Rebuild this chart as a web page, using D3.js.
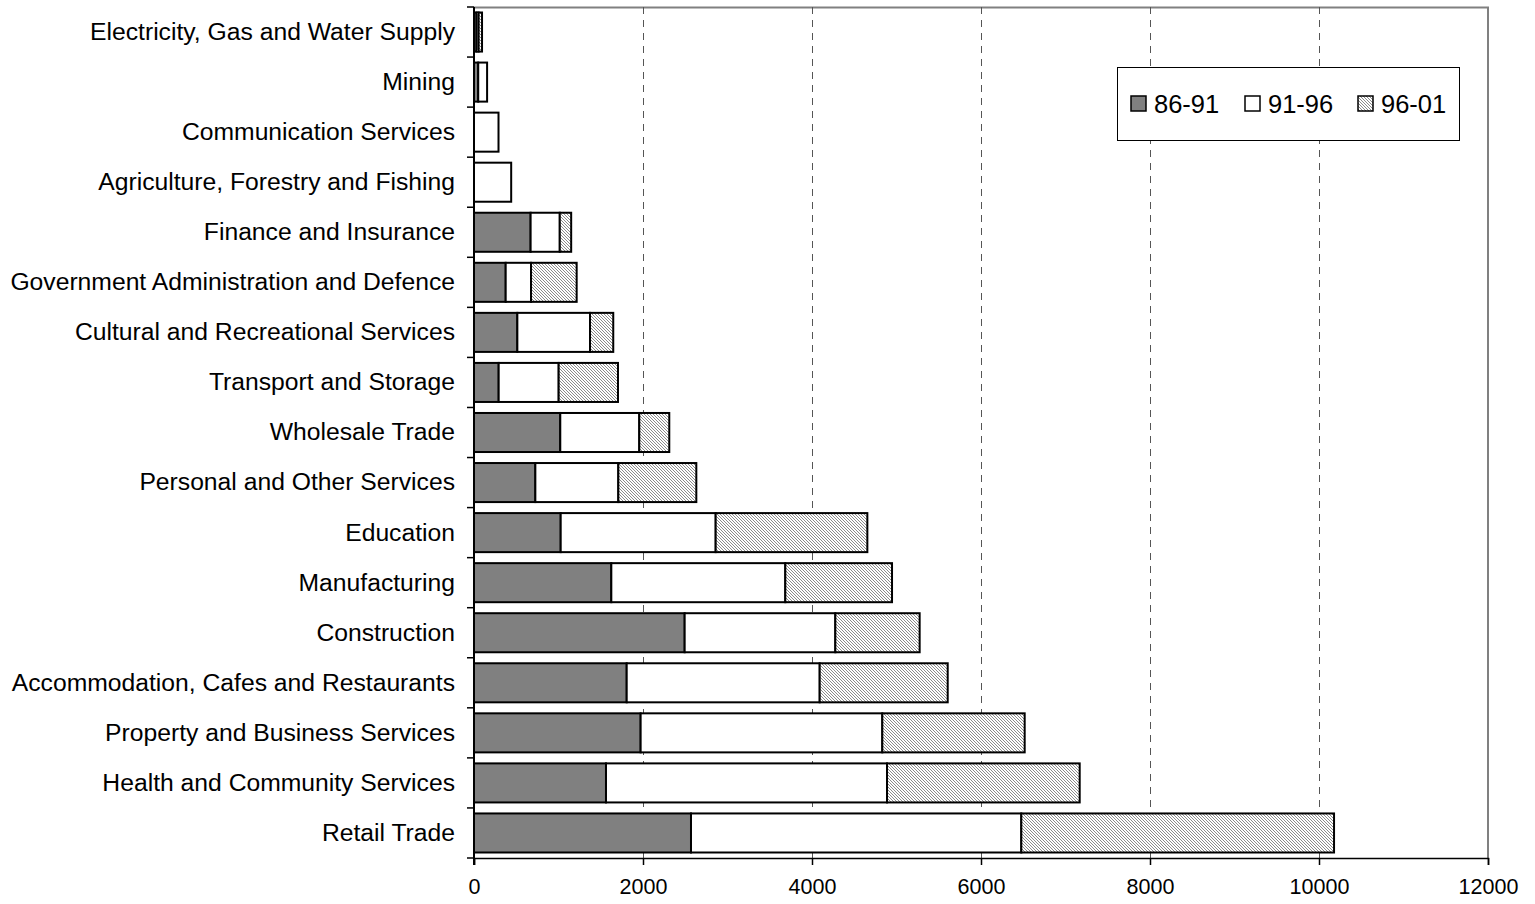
<!DOCTYPE html>
<html>
<head>
<meta charset="utf-8">
<script src="https://cdn.jsdelivr.net/npm/d3@7"></script>
<style>
  html, body { margin: 0; padding: 0; background: #fff; }
  svg { display: block; font-family: Arial, "Liberation Sans", sans-serif; }
</style>
</head>
<body>
<svg id="chart" width="1535" height="904"></svg>
<script>
const categories = [
  "Electricity, Gas and Water Supply",
  "Mining",
  "Communication Services",
  "Agriculture, Forestry and Fishing",
  "Finance and Insurance",
  "Government Administration and Defence",
  "Cultural and Recreational Services",
  "Transport and Storage",
  "Wholesale Trade",
  "Personal and Other Services",
  "Education",
  "Manufacturing",
  "Construction",
  "Accommodation, Cafes and Restaurants",
  "Property and Business Services",
  "Health and Community Services",
  "Retail Trade"
];
const seriesNames = ["86-91", "91-96", "96-01"];
const s8691 = [30, 50, 0, 0, 670, 375, 513, 292, 1021, 726, 1026, 1625, 2493, 1807, 1972, 1562, 2568];
const s9196 = [25, 105, 290, 440, 345, 300, 860, 710, 935, 982, 1834, 2059, 1783, 2284, 2860, 3326, 3909];
const s9601 = [40, 0, 0, 0, 135, 540, 275, 702, 355, 923, 1795, 1263, 998, 1515, 1685, 2280, 3701];
const xTicks = [0, 2000, 4000, 6000, 8000, 10000, 12000];

const svg = d3.select("#chart");
const m = { left: 474, top: 7, right: 47, bottom: 46 };
const W = 1535 - m.left - m.right;   // 1014
const H = 904 - m.top - m.bottom;    // 851

const defs = svg.append("defs");
const pat = defs.append("pattern")
  .attr("id", "hatch").attr("patternUnits", "userSpaceOnUse")
  .attr("width", 3).attr("height", 3);
pat.append("rect").attr("width", 3).attr("height", 3).attr("fill", "#fff");
[[0,0],[1,1],[2,2]].forEach(([px, py]) => {
  pat.append("rect").attr("x", px).attr("y", py).attr("width", 1).attr("height", 1).attr("fill", "#8c8c8c");
});

const fills = ["#808080", "#ffffff", "url(#hatch)"];

const x = d3.scaleLinear().domain([0, 12000]).range([0, W]);
const y = d3.scaleBand().domain(categories).range([0, H]).paddingInner(0.22).paddingOuter(0.11);

const g = svg.append("g").attr("transform", `translate(${m.left},${m.top})`);

// plot frame (top & right)
g.append("path")
  .attr("d", `M0,0.5 H${W} V${H}`)
  .attr("fill", "none").attr("stroke", "#808080").attr("stroke-width", 2);

// gridlines
g.append("g").selectAll("line").data(xTicks.filter(t => t > 0 && t < 12000)).join("line")
  .attr("x1", d => Math.round(x(d)) + 0.5).attr("x2", d => Math.round(x(d)) + 0.5)
  .attr("y1", 0).attr("y2", H)
  .attr("stroke", "#555").attr("stroke-width", 1).attr("stroke-dasharray", "7,6");

// stacked data
const rows = categories.map((c, i) => ({ cat: c, vals: [s8691[i], s9196[i], s9601[i]] }));
const stack = d3.stack().keys([0, 1, 2]).value((d, k) => d.vals[k]);
const layers = stack(rows);

layers.forEach((layer, k) => {
  g.append("g").selectAll("rect").data(layer.filter(d => d[1] - d[0] > 0)).join("rect")
    .attr("x", d => x(d[0]))
    .attr("y", d => y(d.data.cat))
    .attr("width", d => x(d[1]) - x(d[0]))
    .attr("height", y.bandwidth())
    .attr("fill", fills[k])
    .attr("stroke", "#000").attr("stroke-width", 2);
});

// x axis
const xAxis = d3.axisBottom(x).tickValues(xTicks).tickSize(7).tickPadding(14).tickFormat(d3.format("d"));
const xg = g.append("g").attr("transform", `translate(0,${H})`).call(xAxis);
xg.select(".domain").attr("stroke", "#000").attr("stroke-width", 1.5);
xg.selectAll(".tick line").attr("stroke", "#000").attr("stroke-width", 1.5);
xg.selectAll(".tick text").attr("font-size", 21.5).attr("fill", "#000")
  .attr("font-family", "Arial, 'Liberation Sans', sans-serif");

// y axis: line and ticks at band boundaries
g.append("line").attr("x1", 0).attr("x2", 0).attr("y1", 0).attr("y2", H + 7)
  .attr("stroke", "#000").attr("stroke-width", 2);
const step = y.step();
const bandTop0 = y(categories[0]) - y.paddingOuter() * step;
g.append("g").selectAll("line").data(d3.range(categories.length + 1)).join("line")
  .attr("x1", -7).attr("x2", 0)
  .attr("y1", i => bandTop0 + i * step)
  .attr("y2", i => bandTop0 + i * step)
  .attr("stroke", "#000").attr("stroke-width", 1.5);

// category labels
g.append("g").selectAll("text").data(categories).join("text")
  .attr("x", -19)
  .attr("y", d => y(d) + y.bandwidth() / 2)
  .attr("dy", "0.32em")
  .attr("text-anchor", "end")
  .attr("font-size", 24.7)
  .attr("fill", "#000")
  .text(d => d);

// legend
const lg = svg.append("g").attr("transform", "translate(1117,67)");
lg.append("rect").attr("x", 0.5).attr("y", 0.5).attr("width", 342).attr("height", 73)
  .attr("fill", "#fff").attr("stroke", "#000").attr("stroke-width", 1);
const legendX = [14, 128, 241];
seriesNames.forEach((name, k) => {
  const it = lg.append("g").attr("transform", `translate(${legendX[k]},0)`);
  it.append("rect").attr("x", 0).attr("y", 29).attr("width", 15).attr("height", 15)
    .attr("fill", fills[k]).attr("stroke", "#000").attr("stroke-width", 1.5);
  it.append("text").attr("x", 23).attr("y", 37).attr("dy", "0.35em")
    .attr("font-size", 25.5).attr("fill", "#000").text(name);
});
</script>
</body>
</html>
